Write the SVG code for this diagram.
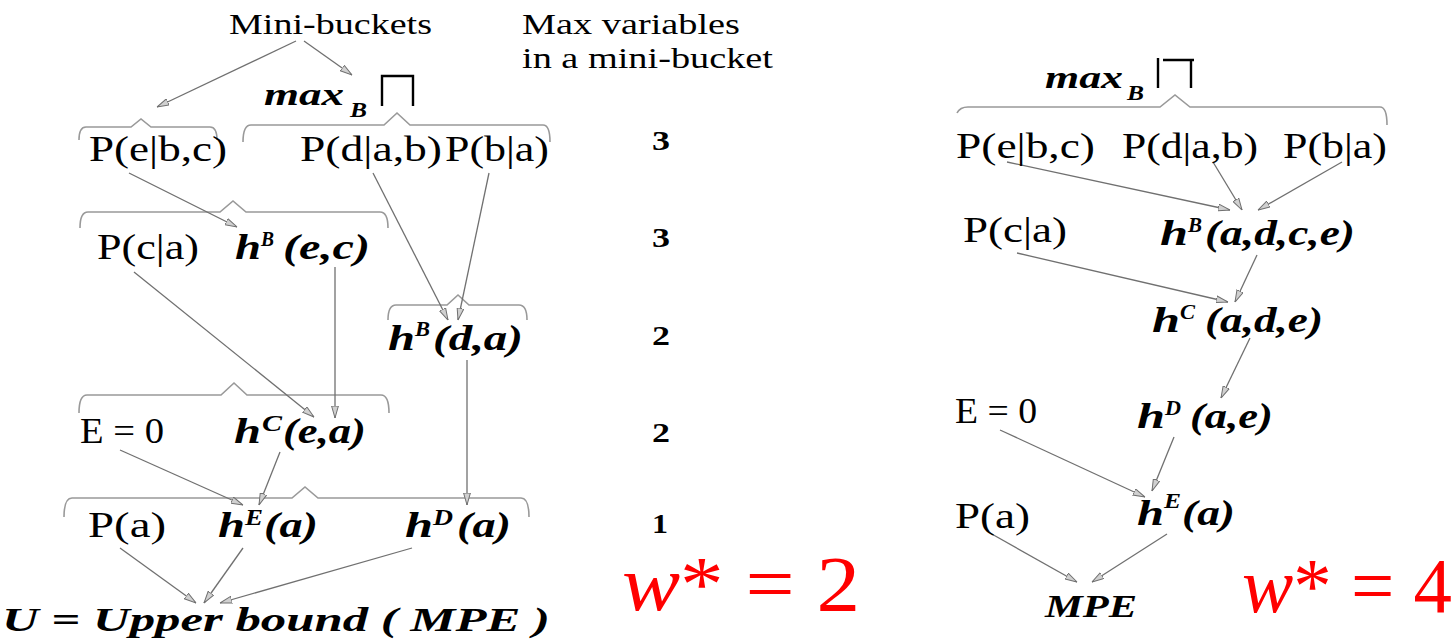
<svg xmlns="http://www.w3.org/2000/svg" width="1456" height="639" viewBox="0 0 1456 639">
<style>
.t{font-family:"Liberation Serif","Times New Roman",serif;font-size:35px;fill:#000}
.h{font-family:"Liberation Serif","Times New Roman",serif;font-size:35px;font-weight:bold;font-style:italic;fill:#000}
.s{font-family:"Liberation Serif","Times New Roman",serif;font-size:20px;font-weight:bold;font-style:italic;fill:#000}
.n{font-family:"Liberation Serif","Times New Roman",serif;font-size:27px;font-weight:bold;fill:#000}
.w{font-family:"Liberation Serif","Times New Roman",serif;font-size:78px;fill:#ff0000}
.lab{font-family:"Liberation Serif","Times New Roman",serif;font-size:29px;fill:#000}
.br{fill:none;stroke:#999;stroke-width:1.6}
.c{fill:none;stroke:#707070;stroke-width:1.3;marker-end:url(#ah)}
.sym{fill:none;stroke:#000;stroke-width:2.4}
</style>
<defs>
<marker id="ah" viewBox="0 0 12 8" refX="12" refY="4" markerWidth="12" markerHeight="8" orient="auto" markerUnits="userSpaceOnUse">
<path d="M0,0.6 L12,4 L0,7.4 Z" fill="#d0d0d0" stroke="#707070" stroke-width="1"/>
</marker>
</defs>
<rect width="1456" height="639" fill="#fff"/>

<!-- braces -->
<g id="braces">
<path class="br" d="M79,140 Q79,127 86,127 H131 L141,119 L151,127 H210 Q217,127 217,140"/>
<path class="br" d="M243,142 Q243,125 251,125 H384 L397,113 L410,125 H543 Q550,125 550,142"/>
<path class="br" d="M80,228 Q80,212 88,212 H220 L233,201 L246,212 H380 Q388,212 388,228"/>
<path class="br" d="M388,320 Q388,305 396,305 H447 L458,295 L469,305 H519 Q527,305 527,320"/>
<path class="br" d="M79,413 Q79,395 87,395 H221 L234,383 L247,395 H381 Q389,395 389,413"/>
<path class="br" d="M64,517 Q64,498 72,498 H292 L305,487 L318,498 H521 Q529,498 529,517"/>
<path class="br" d="M957,113 Q960,107 968,107 H1160 L1175,95 L1190,107 H1380 Q1387,107 1387,125"/>
</g>

<!-- connectors -->
<g id="connectors">
<line class="c" x1="296" y1="41" x2="157" y2="107"/>
<line class="c" x1="304" y1="41" x2="352" y2="75"/>
<line class="c" x1="129" y1="173" x2="237" y2="227"/>
<line class="c" x1="373" y1="173" x2="448" y2="320"/>
<line class="c" x1="489" y1="173" x2="458" y2="320"/>
<line class="c" x1="134" y1="272" x2="314" y2="417"/>
<line class="c" x1="335" y1="267" x2="335" y2="418"/>
<line class="c" x1="467" y1="360" x2="467" y2="505"/>
<line class="c" x1="120" y1="450" x2="243" y2="505"/>
<line class="c" x1="280" y1="452" x2="259" y2="505"/>
<line class="c" x1="120" y1="548" x2="196" y2="603"/>
<line class="c" x1="243" y1="548" x2="204" y2="603"/>
<line class="c" x1="412" y1="548" x2="220" y2="603"/>

<line class="c" x1="1007" y1="162" x2="1230" y2="210"/>
<line class="c" x1="1213" y1="162" x2="1242" y2="210"/>
<line class="c" x1="1342" y1="162" x2="1258" y2="210"/>
<line class="c" x1="1017" y1="253" x2="1228" y2="302"/>
<line class="c" x1="1257" y1="255" x2="1235" y2="302"/>
<line class="c" x1="1250" y1="338" x2="1221" y2="398"/>
<line class="c" x1="1174" y1="437" x2="1152" y2="491"/>
<line class="c" x1="1000" y1="430" x2="1145" y2="497"/>
<line class="c" x1="990" y1="533" x2="1077" y2="582"/>
<line class="c" x1="1167" y1="534" x2="1092" y2="582"/>
</g>

<!-- labels -->
<g id="mini-buckets"><text class="lab" x="229" y="34" textLength="203" lengthAdjust="spacingAndGlyphs">Mini-buckets</text></g>
<g id="max-variables">
<text class="lab" x="522" y="34" textLength="218" lengthAdjust="spacingAndGlyphs">Max variables</text>
<text class="lab" x="522" y="68" textLength="251" lengthAdjust="spacingAndGlyphs">in a mini-bucket</text>
</g>

<!-- left max_B -->
<g id="maxB-left">
<text class="h" x="264" y="105" textLength="80" lengthAdjust="spacingAndGlyphs" style="font-size:32px">max</text>
<text class="s" x="350" y="117" textLength="17" lengthAdjust="spacingAndGlyphs">B</text>
<path class="sym" d="M382,106 V76 H413 V106"/>
</g>

<!-- left row 1 -->
<g id="L-P-e-bc"><text class="t" x="89" y="161" textLength="138" lengthAdjust="spacingAndGlyphs">P(e|b,c)</text></g>
<g id="L-P-d-ab"><text class="t" x="300" y="161" textLength="142" lengthAdjust="spacingAndGlyphs">P(d|a,b)</text></g>
<g id="L-P-b-a"><text class="t" x="445" y="161" textLength="104" lengthAdjust="spacingAndGlyphs">P(b|a)</text></g>

<!-- left row 2 -->
<g id="L-P-c-a"><text class="t" x="97" y="259" textLength="102" lengthAdjust="spacingAndGlyphs">P(c|a)</text></g>
<g id="L-hB-ec">
<text class="h" x="235" y="259" textLength="26" lengthAdjust="spacingAndGlyphs">h</text>
<text class="s" x="261" y="246" textLength="13" lengthAdjust="spacingAndGlyphs">B</text>
<text class="h" x="283" y="259" textLength="87" lengthAdjust="spacingAndGlyphs">(e,c)</text>
</g>

<!-- left row 3 -->
<g id="L-hB-da">
<text class="h" x="388" y="350" textLength="27" lengthAdjust="spacingAndGlyphs">h</text>
<text class="s" x="415" y="336" textLength="15" lengthAdjust="spacingAndGlyphs">B</text>
<text class="h" x="433" y="350" textLength="90" lengthAdjust="spacingAndGlyphs">(d,a)</text>
</g>

<!-- left row 4 -->
<g id="L-E0"><text class="t" x="80" y="443" textLength="84" lengthAdjust="spacingAndGlyphs">E = 0</text></g>
<g id="L-hC-ea">
<text class="h" x="234" y="443" textLength="27" lengthAdjust="spacingAndGlyphs">h</text>
<text class="s" x="262" y="431" textLength="20" lengthAdjust="spacingAndGlyphs" style="font-size:24px">C</text>
<text class="h" x="283" y="443" textLength="83" lengthAdjust="spacingAndGlyphs">(e,a)</text>
</g>

<!-- left row 5 -->
<g id="L-Pa"><text class="t" x="88" y="537" textLength="78" lengthAdjust="spacingAndGlyphs">P(a)</text></g>
<g id="L-hE-a">
<text class="h" x="218" y="537" textLength="27" lengthAdjust="spacingAndGlyphs">h</text>
<text class="s" x="245" y="525" textLength="18" lengthAdjust="spacingAndGlyphs" style="font-size:23px">E</text>
<text class="h" x="264" y="537" textLength="54" lengthAdjust="spacingAndGlyphs">(a)</text>
</g>
<g id="L-hD-a">
<text class="h" x="405" y="537" textLength="28" lengthAdjust="spacingAndGlyphs">h</text>
<text class="s" x="433" y="525" textLength="20" lengthAdjust="spacingAndGlyphs" style="font-size:23px">D</text>
<text class="h" x="457" y="537" textLength="54" lengthAdjust="spacingAndGlyphs">(a)</text>
</g>

<!-- bottom -->
<g id="L-U"><text class="h" x="2" y="631" textLength="548" lengthAdjust="spacingAndGlyphs" style="font-size:34px">U = Upper bound ( MPE )</text></g>

<!-- numbers -->
<g id="counts">
<text class="n" x="652" y="150" textLength="18" lengthAdjust="spacingAndGlyphs">3</text>
<text class="n" x="652" y="247" textLength="18" lengthAdjust="spacingAndGlyphs">3</text>
<text class="n" x="652" y="345" textLength="18" lengthAdjust="spacingAndGlyphs">2</text>
<text class="n" x="652" y="442" textLength="18" lengthAdjust="spacingAndGlyphs">2</text>
<text class="n" x="652" y="533" textLength="16" lengthAdjust="spacingAndGlyphs">1</text>
</g>

<g id="w2"><text class="w" x="622" y="610" textLength="238" lengthAdjust="spacingAndGlyphs"><tspan font-style="italic">w</tspan>* = 2</text></g>

<!-- right side -->
<g id="maxB-right">
<text class="h" x="1045" y="88" textLength="78" lengthAdjust="spacingAndGlyphs" style="font-size:32px">max</text>
<text class="s" x="1127" y="100" textLength="17" lengthAdjust="spacingAndGlyphs">B</text>
<path class="sym" d="M1158,58 V88 M1163,60 H1194 M1191,60 V88"/>
</g>
<g id="R-P-e-bc"><text class="t" x="956" y="158" textLength="139" lengthAdjust="spacingAndGlyphs">P(e|b,c)</text></g>
<g id="R-P-d-ab"><text class="t" x="1122" y="158" textLength="136" lengthAdjust="spacingAndGlyphs">P(d|a,b)</text></g>
<g id="R-P-b-a"><text class="t" x="1283" y="158" textLength="104" lengthAdjust="spacingAndGlyphs">P(b|a)</text></g>
<g id="R-P-c-a"><text class="t" x="963" y="242" textLength="104" lengthAdjust="spacingAndGlyphs">P(c|a)</text></g>
<g id="R-hB">
<text class="h" x="1160" y="245" textLength="28" lengthAdjust="spacingAndGlyphs">h</text>
<text class="s" x="1188" y="232" textLength="14" lengthAdjust="spacingAndGlyphs">B</text>
<text class="h" x="1205" y="245" textLength="150" lengthAdjust="spacingAndGlyphs">(a,d,c,e)</text>
</g>
<g id="R-hC">
<text class="h" x="1152" y="332" textLength="28" lengthAdjust="spacingAndGlyphs">h</text>
<text class="s" x="1180" y="319" textLength="15" lengthAdjust="spacingAndGlyphs">C</text>
<text class="h" x="1205" y="332" textLength="118" lengthAdjust="spacingAndGlyphs">(a,d,e)</text>
</g>
<g id="R-E0"><text class="t" x="955" y="423" textLength="82" lengthAdjust="spacingAndGlyphs">E = 0</text></g>
<g id="R-hD">
<text class="h" x="1137" y="428" textLength="28" lengthAdjust="spacingAndGlyphs">h</text>
<text class="s" x="1165" y="415" textLength="16" lengthAdjust="spacingAndGlyphs">D</text>
<text class="h" x="1190" y="428" textLength="83" lengthAdjust="spacingAndGlyphs">(a,e)</text>
</g>
<g id="R-Pa"><text class="t" x="955" y="528" textLength="75" lengthAdjust="spacingAndGlyphs">P(a)</text></g>
<g id="R-hE">
<text class="h" x="1137" y="525" textLength="27" lengthAdjust="spacingAndGlyphs">h</text>
<text class="s" x="1164" y="508" textLength="17" lengthAdjust="spacingAndGlyphs">E</text>
<text class="h" x="1182" y="525" textLength="53" lengthAdjust="spacingAndGlyphs">(a)</text>
</g>
<g id="R-MPE"><text class="h" x="1045" y="617" textLength="92" lengthAdjust="spacingAndGlyphs" style="font-size:32px">MPE</text></g>
<g id="w4"><text class="w" x="1242" y="612" textLength="210" lengthAdjust="spacingAndGlyphs"><tspan font-style="italic">w</tspan>* = 4</text></g>
</svg>
